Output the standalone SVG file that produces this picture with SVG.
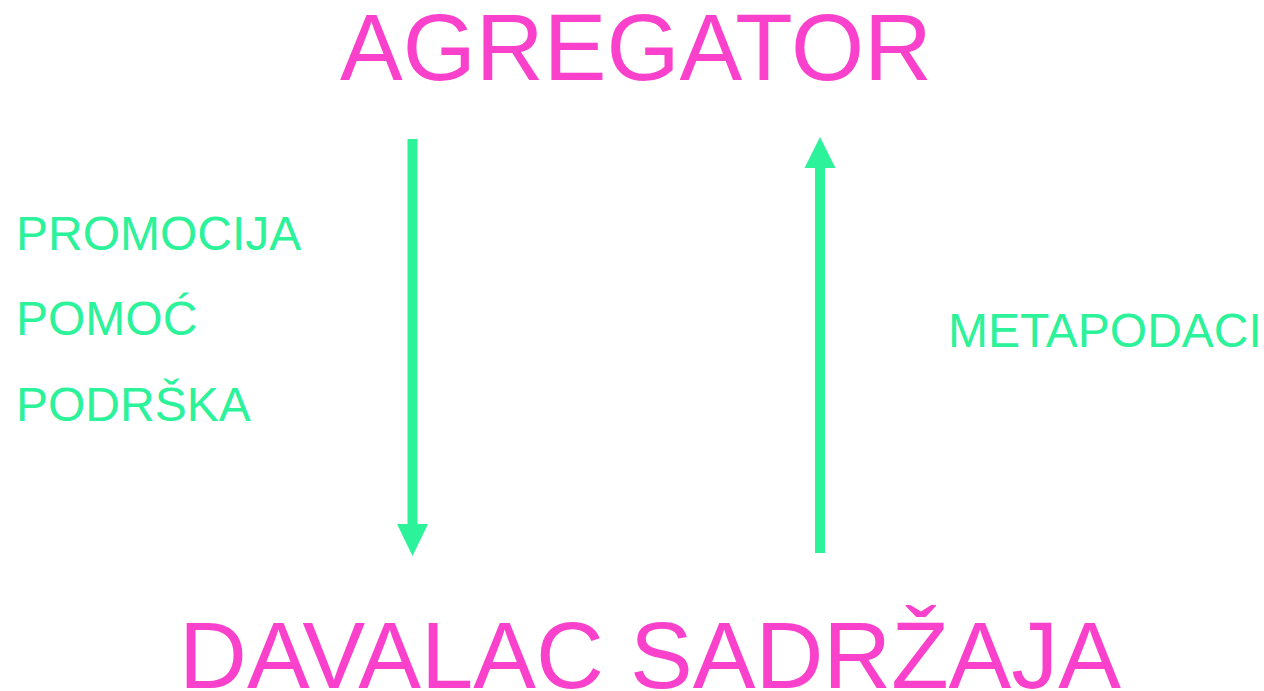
<svg xmlns="http://www.w3.org/2000/svg" width="1264" height="691" viewBox="0 0 1264 691">
<style>
.big{font-family:"Liberation Sans",Arial,sans-serif;font-size:94px;fill:#FA41CC}
.lab{font-family:"Liberation Sans",Arial,sans-serif;font-size:48px;fill:#2CF29A}
.arr{stroke:#2CF29A;stroke-width:10;fill:none}
.head{fill:#2CF29A}
</style>
<rect width="1264" height="691" fill="#FFFFFF"/>
<g id="agregator"><text class="big" x="340" y="80">AGREGATOR</text></g>
<g id="davalac"><text class="big" x="179" y="688">DAVALAC SADRŽAJA</text></g>
<g id="labels-left">
<text class="lab" x="16" y="250">PROMOCIJA</text>
<text class="lab" x="16" y="335">POMOĆ</text>
<text class="lab" x="16" y="421">PODRŠKA</text>
</g>
<g id="label-right"><text class="lab" x="948" y="347">METAPODACI</text></g>
<g id="connectors">
<line class="arr" x1="412.5" y1="139" x2="412.5" y2="526"/>
<polygon class="head" points="397,524 428,524 412.5,556"/>
<line class="arr" x1="820" y1="553" x2="820" y2="166"/>
<polygon class="head" points="804.5,168 835.5,168 820,137"/>
</g>
</svg>
